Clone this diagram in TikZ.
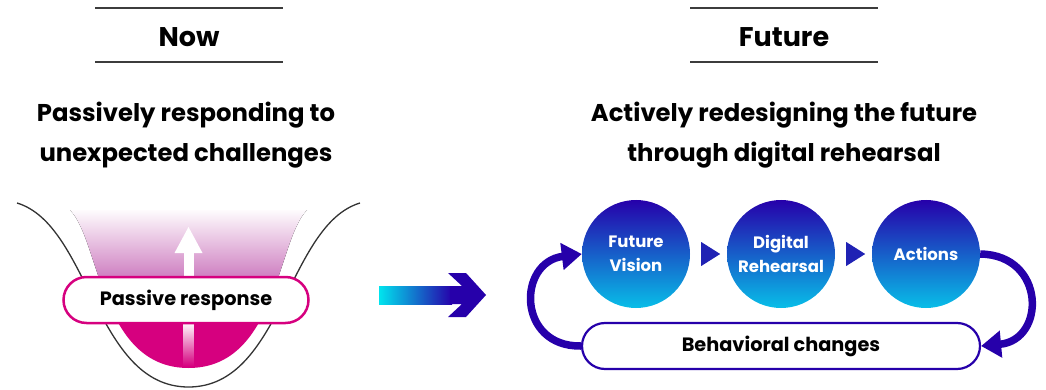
\documentclass[tikz,border=0pt]{standalone}
\usepackage{fontspec}
\setmainfont{Poppins}
\usetikzlibrary{arrows.meta,calc}
\definecolor{mag}{RGB}{214,0,127}
\definecolor{lilac}{RGB}{196,100,180}
\definecolor{dblue}{RGB}{38,0,170}
\definecolor{cyanc}{RGB}{0,228,238}
\definecolor{lblue}{RGB}{8,190,232}
\definecolor{rule}{RGB}{60,60,60}
\tikzset{
  rulel/.style={draw=rule,line width=1.2pt},
  headtxt/.style={font=\fontsize{27}{40}\selectfont\bfseries,align=center,text=black},
  bigtxt/.style={font=\fontsize{24.3}{40}\selectfont\bfseries,align=center,text=black},
  circ/.style={circle,minimum size=108pt,inner sep=0pt,text=white,align=center,
    font=\fontsize{16.5}{24}\selectfont\bfseries,
    top color=dblue,middle color=dblue,bottom color=lblue},
  pillm/.style={draw=mag,line width=2.5pt,fill=white,rounded corners=23pt,
    minimum width=245pt,minimum height=46pt,font=\fontsize{19.3}{22}\selectfont\bfseries},
  pillb/.style={draw=dblue,line width=2.2pt,fill=white,rounded corners=23pt,
    minimum width=398pt,minimum height=46pt,font=\fontsize{19.3}{22}\selectfont\bfseries},
  tri/.style={fill=dblue!85!cyanc},
  cyc/.style={draw=dblue,line width=7.5pt,-{Triangle[length=20pt,width=26pt]}},
}
\begin{document}
\begin{tikzpicture}[x=1pt,y=-1pt]
\useasboundingbox (0,0) rectangle (1046,390);
% headings
\draw[rulel] (95,8) -- (283,8);
\draw[rulel] (95,62) -- (283,62);
\node[headtxt] (now) at (189,37) {Now};
\draw[rulel] (690,8) -- (878,8);
\draw[rulel] (690,62) -- (878,62);
\node[headtxt] (fut) at (784,37) {Future};
\node[bigtxt] (ptxt) at (186,135) {Passively responding to\\unexpected challenges};
\node[bigtxt] (atxt) at (784,135) {Actively redesigning the future\\through digital rehearsal};
% left bowl
\begin{scope}
\clip (70,210) .. controls (100,240) and (100,368) .. (188.5,368)
      .. controls (277,368) and (277,240) .. (307,210) -- cycle;
\fill[top color=white,bottom color=lilac] (60,208) rectangle (320,292);
\fill[mag] (60,291) rectangle (320,372);
\end{scope}
\draw[black!80,line width=1.3pt] (17,203) .. controls (90,225) and (95,387) .. (188.5,387)
      .. controls (282,387) and (287,225) .. (360,203);
% white arrow
\fill[white] (183.5,253) rectangle (193.5,282);
\fill[white] (174.5,253) -- (188.5,227) -- (202.5,253) -- cycle;
\fill[top color=white,bottom color=mag] (183.5,322) rectangle (193.5,366);
\node[pillm] (pr) at (186,300) {Passive response};
% middle arrow
\fill[left color=cyanc,right color=dblue] (379,286) rectangle (452,304);
\fill[dblue] (448,273) -- (466,273) -- (486,295) -- (466,317) -- (448,317)
   -- (462,304) -- (450,304) -- (450,286) -- (462,286) -- cycle;
% right cycle
\node[circ] (fv) at (636,254) {Future\\Vision};
\node[circ] (dr) at (781,254) {Digital\\Rehearsal};
\node[circ] (ac) at (926,254) {Actions};
\node[pillb] (bc) at (781,346) {Behavioral changes};
\fill[tri] ($(fv.east)+(11,-12)$) -- ++(19,12) -- ++(-19,12) -- cycle;
\fill[tri] ($(dr.east)+(11,-12)$) -- ++(19,12) -- ++(-19,12) -- cycle;
\draw[cyc] (bc.west) .. controls (517,347) and (517,262) .. (fv.west);
\draw[cyc] (ac.east) .. controls (1046,255) and (1046,340) .. (bc.east);
\end{tikzpicture}
\end{document}
